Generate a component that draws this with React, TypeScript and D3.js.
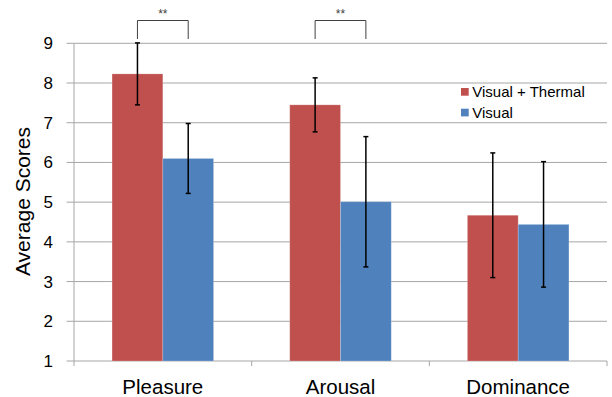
import React from 'react';
import * as d3 from 'd3';

const categories = ['Pleasure', 'Arousal', 'Dominance'];
const seriesNames = ['Visual + Thermal', 'Visual'];
const thermalMeans = [8.23, 7.45, 4.67];
const thermalSd = [0.78, 0.68, 1.57];
const visualMeans = [6.1, 5.01, 4.44];
const visualSd = [0.88, 1.64, 1.58];
const yTicks = [1, 2, 3, 4, 5, 6, 7, 8, 9];
const sigPairs = ['Pleasure', 'Arousal'];

const colors = ['#C0504D', '#4F81BD'];
const W = 612;
const H = 397;
const margin = { top: 43.3, right: 5, bottom: 36, left: 74 };

function App() {
  const x = d3.scaleBand().domain(categories).range([margin.left, 607]);
  const x1 = d3.scaleBand().domain(seriesNames).range([0, x.bandwidth()]).paddingOuter(0.75);
  const y = d3.scaleLinear().domain([1, 9]).range([361, margin.top]);

  const rows = categories.map((c, i) => [
    { cat: c, s: seriesNames[0], v: thermalMeans[i], e: thermalSd[i], col: colors[0] },
    { cat: c, s: seriesNames[1], v: visualMeans[i], e: visualSd[i], col: colors[1] },
  ]).flat();

  const font = 'Arial, "Liberation Sans", sans-serif';
  const bw = x1.bandwidth();

  return (
    <svg width={W} height={H} style={{ position: 'absolute', left: 0, top: 0 }} fontFamily={font}>
      <rect width={W} height={H} fill="#fff" />
      {/* grid */}
      {yTicks.map(t => (
        <g key={t}>
          <line x1={66.5} x2={607} y1={y(t)} y2={y(t)} stroke="#A6A6A6" strokeWidth={1} />
          <text x={53} y={y(t)} dy="0.35em" textAnchor="end" fontSize={17} fill="#000">{t}</text>
        </g>
      ))}
      <line x1={margin.left} x2={margin.left} y1={y(9)} y2={y(1)} stroke="#A6A6A6" />
      {[...categories.map(c => x(c)!), 607].map((tx, i) => (
        <line key={i} x1={tx} x2={tx} y1={y(1)} y2={y(1) + 5} stroke="#A6A6A6" />
      ))}
      {/* bars */}
      {rows.map((r, i) => (
        <rect key={i} x={x(r.cat)! + x1(r.s)!} y={y(r.v)} width={bw} height={y(1) - y(r.v)}
          fill={r.col} stroke="#fff" strokeOpacity={0.25} strokeWidth={0.8} />
      ))}
      {/* error bars */}
      {rows.map((r, i) => {
        const cx = x(r.cat)! + x1(r.s)! + bw / 2;
        return (
          <g key={i} stroke="#000" strokeWidth={1.5}>
            <line x1={cx} x2={cx} y1={y(r.v + r.e)} y2={y(r.v - r.e)} />
            <line x1={cx - 2.5} x2={cx + 2.5} y1={y(r.v + r.e)} y2={y(r.v + r.e)} />
            <line x1={cx - 2.5} x2={cx + 2.5} y1={y(r.v - r.e)} y2={y(r.v - r.e)} />
          </g>
        );
      })}
      {/* significance brackets */}
      {sigPairs.map(c => {
        const a = x(c)! + x1(seriesNames[0])! + bw / 2;
        const b = x(c)! + x1(seriesNames[1])! + bw / 2;
        return (
          <g key={c}>
            <path d={`M${a},39 V20.5 H${b} V39`} fill="none" stroke="#404040" strokeWidth={1} />
            <text x={(a + b) / 2} y={18} textAnchor="middle" fontSize={12} fill="#404040">**</text>
          </g>
        );
      })}
      {/* x labels */}
      {categories.map(c => (
        <text key={c} x={x(c)! + x.bandwidth() / 2} y={394} textAnchor="middle" fontSize={20.5} fill="#000">{c}</text>
      ))}
      {/* y title */}
      <text transform="translate(30,201.5) rotate(-90)" textAnchor="middle" fontSize={21} fill="#000">Average Scores</text>
      {/* legend */}
      {seriesNames.map((s, i) => (
        <g key={s} transform={`translate(461,${88 + i * 20.7})`}>
          <rect width={7.7} height={7.7} fill={colors[i]} />
          <text x={11.3} y={9.3} fontSize={15} fill="#000">{s}</text>
        </g>
      ))}
    </svg>
  );
}

export default App;
